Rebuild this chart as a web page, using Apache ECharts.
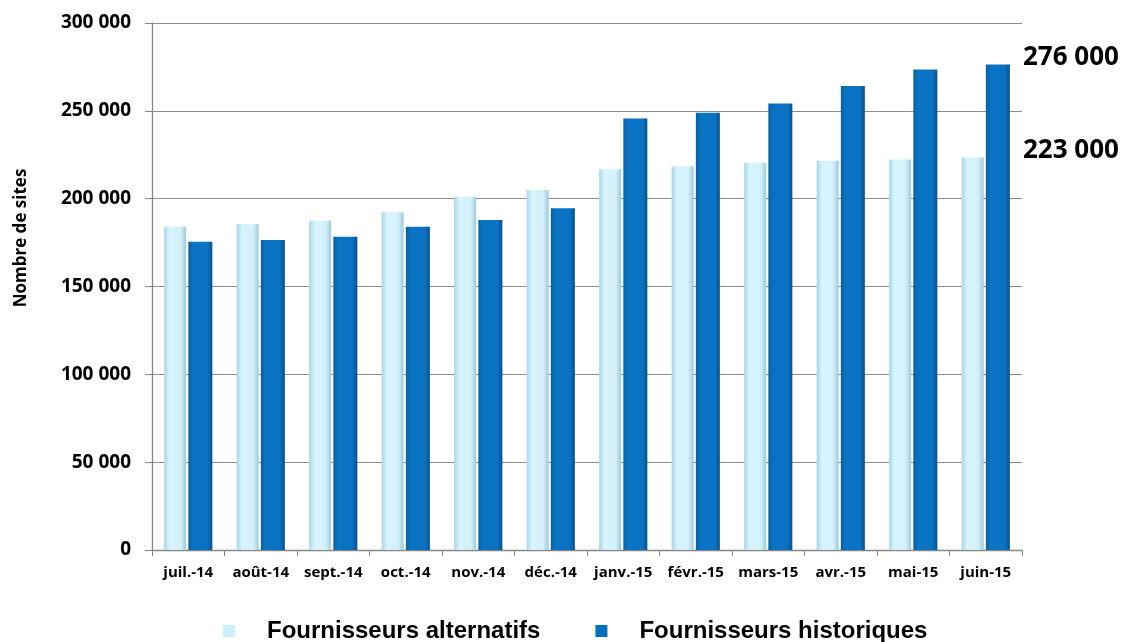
<!DOCTYPE html>
<html>
<head>
<meta charset="utf-8">
<script src="https://cdn.jsdelivr.net/npm/echarts@6/dist/echarts.min.js"></script>
<style>
html,body{margin:0;padding:0;background:#fff;}
#c{width:1133px;height:642px;}
</style>
</head>
<body>
<div id="c"></div>
<script>
var categories = ['juil.-14','août-14','sept.-14','oct.-14','nov.-14','déc.-14','janv.-15','févr.-15','mars-15','avr.-15','mai-15','juin-15'];
var alternatifs = [184000,185400,187400,192200,201100,204900,216700,218500,220400,221600,222300,223500];
var historiques = [175500,176400,178300,184000,187800,194500,245700,248900,254200,264100,273600,276400];
var seriesNames = ['Fournisseurs alternatifs','Fournisseurs historiques'];
var yTicks = [0,50000,100000,150000,200000,250000,300000];
var annotations = [{value:276000, text:'276 000'},{value:223000, text:'223 000'}];
var yTitle = 'Nombre de sites';

function fmt(v){ return String(v).replace(/\B(?=(\d{3})+(?!\d))/g,' '); }

var chart = echarts.init(document.getElementById('c'));
var lightGrad = new echarts.graphic.LinearGradient(0,0,1,0,[
  {offset:0,color:'#a9d6e6'},{offset:0.25,color:'#d8f4fd'},{offset:0.75,color:'#d3f1fb'},{offset:1,color:'#9fc9d8'}]);
var darkGrad = new echarts.graphic.LinearGradient(0,0,1,0,[
  {offset:0,color:'#0a5f9e'},{offset:0.2,color:'#0a74c4'},{offset:0.8,color:'#0a72c2'},{offset:1,color:'#08508a'}]);

chart.setOption({
  animation:false,
  grid:{left:152,right:111,top:23,bottom:92,containLabel:false},
  legend:{
    left:218, top:614, itemWidth:12, itemHeight:12, itemGap:55, icon:'rect',
    textStyle:{fontFamily:'Liberation Sans',fontWeight:'bold',fontSize:24,color:'#000',padding:[0,0,0,27]},
    data:[{name:seriesNames[0],itemStyle:{color:'#cdeefb'}},{name:seriesNames[1],itemStyle:{color:'#0070c0'}}]
  },
  xAxis:{
    type:'category', data:categories,
    axisLine:{lineStyle:{color:'#868686',width:1.3}},
    axisTick:{show:true,length:6,lineStyle:{color:'#868686'}},
    axisLabel:{fontFamily:'Open Sans',fontWeight:'bold',fontSize:15,color:'#000',margin:15,interval:0}
  },
  yAxis:{
    type:'value', min:yTicks[0], max:yTicks[yTicks.length-1], interval:yTicks[1]-yTicks[0],
    axisLine:{show:true,lineStyle:{color:'#868686',width:1.3}},
    axisTick:{show:true,length:7,lineStyle:{color:'#868686'}},
    splitLine:{show:true,lineStyle:{color:'#8c8c8c',width:1}},
    axisLabel:{fontFamily:'Open Sans',fontWeight:'bold',fontSize:19,color:'#000',margin:21,formatter:fmt}
  },
  series:[
    {name:seriesNames[0],type:'bar',data:alternatifs,barWidth:22,barGap:'10%',
     itemStyle:{color:lightGrad,shadowColor:'rgba(0,0,0,0.35)',shadowBlur:3,shadowOffsetX:2,shadowOffsetY:0}},
    {name:seriesNames[1],type:'bar',data:historiques,barWidth:24,barGap:'10%',
     itemStyle:{color:darkGrad,shadowColor:'rgba(0,0,0,0.35)',shadowBlur:3,shadowOffsetX:2,shadowOffsetY:0}}
  ]
});

var gfx = [{
  type:'text', x:21, y:238, rotation:Math.PI/2,
  style:{text:yTitle,fontFamily:'Open Sans',fontWeight:'bold',fontSize:17,fill:'#000',align:'center',verticalAlign:'middle'}
}];
annotations.forEach(function(a){
  var py = chart.convertToPixel({yAxisIndex:0}, a.value);
  gfx.push({type:'text', x:1023, y:py-8,
    style:{text:a.text,fontFamily:'Open Sans',fontWeight:'bold',fontSize:26,fill:'#000',align:'left',verticalAlign:'middle'}});
});
chart.setOption({graphic:gfx});
</script>
</body>
</html>
